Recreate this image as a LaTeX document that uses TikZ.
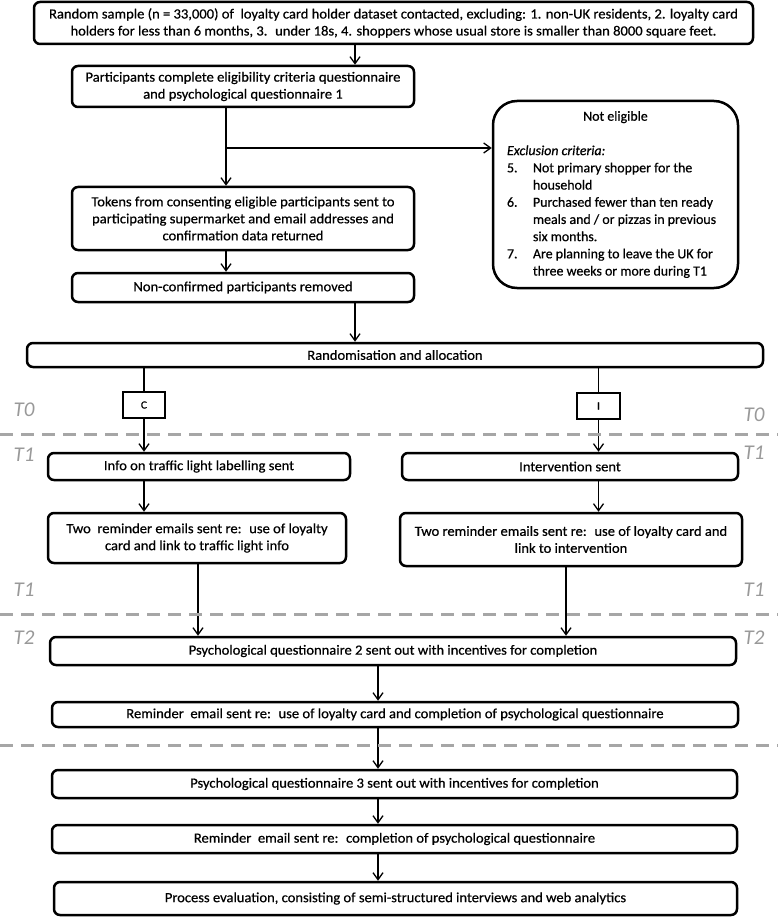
\documentclass[tikz,border=0pt]{standalone}
\usepackage{fontspec}
\setmainfont{Carlito}[FakeStretch=1.04,FakeBold=0.6]
\newfontfamily\plainfont{Carlito}[FakeBold=0.6]
\newfontfamily\labelfont{Carlito}
\usetikzlibrary{arrows.meta,calc}
\begin{document}
\begin{tikzpicture}[x=1pt,y=-1pt,
  box/.style={draw=black,line width=2.5pt,rounded corners=6pt,align=center,inner sep=0pt,font=\fontsize{14}{17}\selectfont},
  arr/.style={line width=1.3pt,-{Straight Barb[length=7pt,width=10pt,line width=1.3pt]}},
  ln/.style={line width=1.3pt},
  sep/.style={draw=black!35,line width=3pt,dash pattern=on 13pt off 8pt},
  tl/.style={text=black!40,font=\labelfont\fontsize{21}{21}\selectfont\itshape,inner sep=0pt}]
\useasboundingbox (0,0) rectangle (778,917);
\node[box,minimum width=719pt,minimum height=42pt] (top) at (393.5,23) {Random sample (n = 33,000) of \ loyalty card holder dataset contacted, excluding: 1. non-UK residents, 2. loyalty card\\ holders for less than 6 months, 3. \ under 18s, 4. shoppers whose usual store is smaller than 8000 square feet.};
\node[box,minimum width=342pt,minimum height=41pt] (part) at (243,86.5) {Participants complete eligibility criteria questionnaire\\ and psychological questionnaire 1};
\node[box,rounded corners=24pt,minimum width=245pt,minimum height=187pt,align=left,font=\plainfont\fontsize{13.9}{17.2}\selectfont] (notel) at (615.5,194.5) {\makebox[217pt][c]{Not eligible}\\[17.2pt]
\textit{Exclusion criteria:}\\
\makebox[26pt][l]{5.}Not primary shopper for the\\
\hspace*{26pt}household\\
\makebox[26pt][l]{6.}Purchased fewer than ten ready\\
\hspace*{26pt}meals and / or pizzas in previous\\
\hspace*{26pt}six months.\\
\makebox[26pt][l]{7.}Are planning to leave the UK for\\
\hspace*{26pt}three weeks or more during T1};
\node[box,minimum width=342pt,minimum height=63pt] (tokens) at (243,218.5) {Tokens from consenting eligible participants sent to\\ participating supermarket and email addresses and\\ confirmation data returned};
\node[box,minimum width=342pt,minimum height=29pt] (noncf) at (243,287.5) {Non-confirmed participants removed};
\node[box,minimum width=736pt,minimum height=24pt] (rand) at (395,355) {Randomisation and allocation};
\node[box,rounded corners=0pt,minimum width=42pt,minimum height=26pt,font=\fontsize{11}{11}\selectfont] (C) at (144,405) {C};
\node[box,rounded corners=0pt,minimum width=43pt,minimum height=26pt,font=\fontsize{11}{11}\selectfont] (I) at (598.5,406) {I};
\node[box,minimum width=302pt,minimum height=27pt] (info) at (199,466.5) {Info on traffic light labelling sent};
\node[box,minimum width=336pt,minimum height=27pt] (interv) at (570,466.5) {Intervention sent};
\node[box,minimum width=298pt,minimum height=50pt] (rem1) at (197,538) {Two \ reminder emails sent re: \ use of loyalty\\ card and link to traffic light info};
\node[box,minimum width=342pt,minimum height=53pt] (rem2) at (571,539.5) {Two reminder emails sent re: \ use of loyalty card and\\ link to intervention};
\node[box,minimum width=686pt,minimum height=28pt] (pq2) at (393,651) {Psychological questionnaire 2 sent out with incentives for completion};
\node[box,minimum width=686pt,minimum height=25pt] (rem3) at (395,714.5) {Reminder \ email sent re: \ use of loyalty card and completion of psychological questionnaire};
\node[box,minimum width=685pt,minimum height=28pt] (pq3) at (394.5,784) {Psychological questionnaire 3 sent out with incentives for completion};
\node[box,minimum width=685pt,minimum height=28pt] (rem4) at (394.5,839) {Reminder \ email sent re: \ completion of psychological questionnaire};
\node[box,minimum width=683pt,minimum height=33pt] (proc) at (395.5,898.5) {Process evaluation, consisting of semi-structured interviews and web analytics};
% x positions
\coordinate (xa) at (355,0);
\coordinate (xb) at (226,0);
\coordinate (xd) at (144,0);
\coordinate (xe) at (598.5,0);
\coordinate (xf) at (198,0);
\coordinate (xg) at (566,0);
\coordinate (xh) at (378,0);
\coordinate (br) at (226,148);
% connectors
\draw[arr] (top.south -| xa) -- (part.north -| xa);
\draw[arr] (part.south -| xb) -- (tokens.north -| xb);
\draw[arr] (br) -- (br -| notel.west);
\draw[arr] (tokens.south -| xb) -- (noncf.north -| xb);
\draw[arr] (noncf.south -| xa) -- (rand.north -| xa);
\draw[ln] (rand.south -| xd) -- (C.north);
\draw[ln] (rand.south -| xe) -- (I.north);
\draw[arr] (C.south) -- (info.north -| xd);
\draw[arr] (I.south) -- (interv.north -| xe);
\draw[arr] (info.south -| xd) -- (rem1.north -| xd);
\draw[arr] (interv.south -| xe) -- (rem2.north -| xe);
\draw[arr] (rem1.south -| xf) -- (pq2.north -| xf);
\draw[arr] (rem2.south -| xg) -- (pq2.north -| xg);
\draw[arr] (pq2.south -| xh) -- (rem3.north -| xh);
\draw[arr] (rem3.south -| xh) -- (pq3.north -| xh);
\draw[arr] (pq3.south -| xh) -- (rem4.north -| xh);
\draw[arr] (rem4.south -| xh) -- (proc.north -| xh);
% time separators
\draw[sep] (0,434) -- (778,434);
\draw[sep] (0,614) -- (778,614);
\draw[sep] (0,745) -- (778,745);
\node[tl] (t0l) at (24,410) {T0};
\node[tl] (t0r) at (754,415) {T0};
\node[tl] (t1l) at (24,455) {T1};
\node[tl] (t1r) at (754,453) {T1};
\node[tl] (t1l2) at (24,590) {T1};
\node[tl] (t1r2) at (754,590) {T1};
\node[tl] (t2l) at (24,638) {T2};
\node[tl] (t2r) at (754,638) {T2};
\end{tikzpicture}
\end{document}
